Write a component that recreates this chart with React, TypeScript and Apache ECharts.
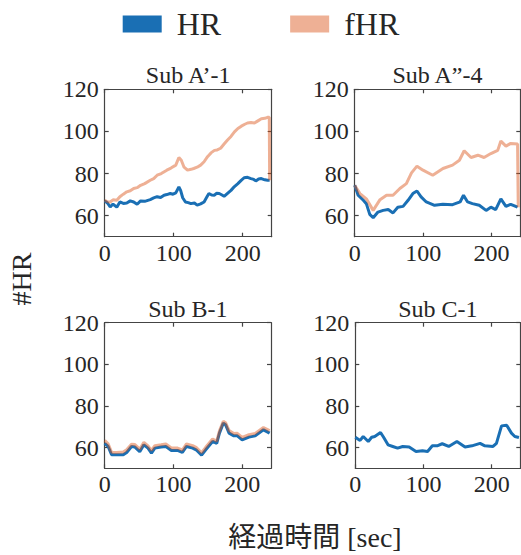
import React, { useEffect, useRef } from "react";
import * as echarts from "echarts";

// ---- Data ----
const subTitles = ["Sub A\u2019-1", "Sub A\u201D-4", "Sub B-1", "Sub C-1"];
const xTicks = [0, 100, 200];
const yTicks = [60, 80, 100, 120];

const a1HrT = [0, 4, 8, 12, 17.5, 22, 27, 32, 37, 42, 47, 52, 58, 66, 71, 76, 81, 86, 90, 95, 99, 103, 107.5, 110, 113, 117, 121, 125, 130, 134, 139, 144, 148, 151, 155, 159, 162, 166, 170, 173, 178, 183, 188, 193, 197, 202, 207, 212, 216, 219, 223, 227, 232, 236, 239];
const a1HrV = [67, 66, 64.1, 65.5, 64, 66.5, 65.8, 66, 67, 66.5, 65.4, 67, 66.8, 67.6, 68.4, 69, 68.6, 69.7, 70, 70.5, 70.2, 70.8, 73.6, 72, 68.5, 66.5, 66.2, 65.7, 66, 65, 65.6, 66.5, 68.8, 70.5, 69.8, 69.7, 70.6, 70.5, 69.8, 69.2, 70.6, 72, 73.8, 75.2, 76.5, 78, 78.2, 77.6, 77.2, 76.5, 77.4, 77.6, 77, 76.8, 76.8];
const a1FhrT = [0, 4, 8, 12, 17.5, 22, 27, 32, 37, 42, 47, 52, 58, 66, 71, 76, 82, 90, 96, 103, 107.5, 111, 115, 120, 125, 129, 134, 139, 144, 149, 154, 159, 163, 168, 173, 178, 183, 188, 193, 198, 203, 207, 212, 217, 222, 227, 232, 236, 238.5, 239];
const a1FhrV = [67.3, 66.6, 66.5, 67.5, 67.3, 69, 70.2, 71.3, 71.8, 72.9, 73.3, 74.4, 75.2, 76.8, 77.6, 79.2, 80, 81.6, 82.6, 84, 87.6, 86.3, 83, 81.6, 82, 82.4, 83, 84, 85.6, 88, 89.8, 91, 91.2, 92, 94, 95.9, 97.6, 99.8, 101.4, 102.5, 103.4, 104, 104.2, 104, 105, 106, 106.2, 106.7, 106.7, 76.8];

const a4HrT = [0, 5, 12.6, 17, 22, 27, 34, 41.6, 49, 56, 63, 70.7, 78, 85, 91, 97, 104.6, 116.7, 128.8, 143, 154, 159, 165, 172, 182, 192, 199, 206, 213.6, 221, 228, 238];
const a4HrV = [74.4, 69.7, 67.3, 65.7, 60.6, 59, 61.7, 62.5, 62.9, 61.3, 64, 64.4, 67.3, 70.5, 71.7, 68.9, 66.5, 64.9, 65.4, 65.2, 66.5, 69.7, 66.5, 65.7, 64.9, 62.5, 64, 62.9, 68, 64.4, 65.4, 64];
const a4FhrT = [0, 7.7, 17, 27, 37, 46.5, 56, 66, 75.5, 83, 91, 99.8, 114, 129, 143, 153, 160, 170, 180, 189, 199, 209, 213.6, 221, 228, 238, 239];
const a4FhrV = [74.4, 70.5, 68, 62.5, 67.6, 69.7, 69.7, 72.9, 75.2, 80.3, 83.5, 81.6, 79.2, 82.4, 84, 86.3, 90.8, 87.6, 88.7, 87.6, 89.5, 91, 95.4, 93, 94.3, 94, 64];

const b1T = [0, 5, 10, 17, 27, 32, 39, 44, 51, 57, 63, 68, 73, 82, 89, 97, 106, 113, 119, 128, 133, 141, 147, 157, 163, 167, 172.6, 176, 181, 188, 193, 200, 210, 219, 231, 240];
const b1HrV = [62, 60.5, 56.5, 56.5, 56.5, 57.6, 60.5, 60.2, 58, 61.3, 59.7, 57.3, 59.7, 60.2, 60.5, 58.6, 58.6, 57.6, 60.5, 59.7, 58.9, 56.3, 58.9, 62.9, 62, 66.9, 71.7, 70.9, 66.9, 65.6, 65.6, 63.7, 65, 65.6, 68.5, 66.9];
const b1FhrV = [63.4, 61.8, 57.7, 57.6, 57.8, 58.9, 61.6, 61.4, 59.2, 62.5, 60.8, 58.6, 60.9, 61.3, 61.7, 59.8, 59.7, 58.8, 61.7, 60.9, 60.1, 57.5, 60.1, 64.1, 63.1, 68, 72.6, 71.9, 68.1, 66.7, 66.8, 64.9, 66.2, 66.8, 69.6, 68.1];

const c1T = [0, 7, 11.6, 19, 24, 28.5, 37, 41.5, 48, 55, 62, 69.6, 79, 89, 98.5, 106, 113, 120, 127.5, 137, 149, 161, 171, 183, 190, 202, 207, 214.5, 222, 229, 234, 240];
const c1HrV = [64.9, 63.4, 65.3, 62.9, 64.9, 65.3, 67.2, 64.9, 61.3, 60.5, 59.7, 60.5, 60.2, 58.1, 58.4, 58.1, 60.8, 60.8, 61.8, 60.5, 62.9, 60.2, 60.8, 62, 60.8, 60.5, 62, 70.4, 70.7, 66.9, 65.3, 64.8];

const X_MAX = 242;
const Y_MIN = 50;
const Y_MAX = 120;

const zip = (t: number[], v: number[]) => t.map((x, i) => [x, v[i]]);

const SERIF = "'Liberation Serif', 'Times New Roman', serif";
const CJK = "'Liberation Serif', 'Noto Sans CJK JP', serif";
const BLUE = "#1A6FB4";
const SALMON = "rgba(217,83,25,0.46)";
const AXIS = "#444";
const TXT = "#262626";

export default function App() {
  const ref = useRef<HTMLDivElement>(null);
  useEffect(() => {
    if (!ref.current) return;
    const chart = echarts.init(ref.current, undefined, { renderer: "svg" });

    const grids = [
      { left: 104.7, top: 89.3, width: 167, height: 147.4 },
      { left: 354.7, top: 89.3, width: 165.6, height: 147.4 },
      { left: 104.7, top: 322.7, width: 166.3, height: 145.6 },
      { left: 355.3, top: 322.7, width: 165, height: 145.6 },
    ];

    const lineStyle = { color: AXIS, width: 1.2 };
    const xAxes: any[] = [];
    const yAxes: any[] = [];
    grids.forEach((_, gi) => {
      ["bottom", "top"].forEach((pos) => {
        xAxes.push({
          type: "value",
          gridIndex: gi,
          position: pos,
          min: 0,
          max: X_MAX,
          axisLine: { show: true, onZero: false, lineStyle },
          axisTick: { show: true, inside: true, length: 4, customValues: xTicks, lineStyle },
          axisLabel: {
            show: pos === "bottom",
            customValues: xTicks,
            fontSize: 24,
            fontFamily: SERIF,
            color: TXT,
            margin: 4,
          },
          splitLine: { show: false },
        });
      });
      ["left", "right"].forEach((pos) => {
        yAxes.push({
          type: "value",
          gridIndex: gi,
          position: pos,
          min: Y_MIN,
          max: Y_MAX,
          axisLine: { show: true, onZero: false, lineStyle },
          axisTick: { show: true, inside: true, length: 4, customValues: yTicks, lineStyle },
          axisLabel: {
            show: pos === "left",
            customValues: yTicks,
            fontSize: 24,
            fontFamily: SERIF,
            color: TXT,
            margin: 6,
          },
          splitLine: { show: false },
        });
      });
    });

    const mk = (name: string, gi: number, data: number[][], color: string, z: number) => ({
      name,
      type: "line",
      xAxisIndex: gi * 2,
      yAxisIndex: gi * 2,
      data,
      showSymbol: false,
      symbol: "none",
      z,
      lineStyle: { color, width: 3 },
      itemStyle: { color },
      clip: true,
    });

    const series = [
      mk("HR", 0, zip(a1HrT, a1HrV), BLUE, 2),
      mk("fHR", 0, zip(a1FhrT, a1FhrV), SALMON, 3),
      mk("HR", 1, zip(a4HrT, a4HrV), BLUE, 2),
      mk("fHR", 1, zip(a4FhrT, a4FhrV), SALMON, 3),
      mk("HR", 2, zip(b1T, b1HrV), BLUE, 2),
      mk("fHR", 2, zip(b1T, b1FhrV), SALMON, 3),
      mk("HR", 3, zip(c1T, c1HrV), BLUE, 2),
    ];

    const titles = grids.map((g, i) => ({
      text: subTitles[i],
      left: g.left + g.width / 2,
      top: g.top - 26,
      textAlign: "center",
      padding: 0,
      textStyle: { fontSize: 24, fontWeight: "normal", fontFamily: SERIF, color: TXT },
    }));

    chart.setOption({
      animation: false,
      backgroundColor: "#fff",
      title: titles,
      legend: {
        data: ["HR", "fHR"],
        left: 122.7,
        top: 8,
        padding: 0,
        icon: "rect",
        itemWidth: 39,
        itemHeight: 17,
        itemGap: 69,
        textStyle: { fontSize: 32, fontFamily: SERIF, color: TXT, padding: [0, 0, 0, 10] },
      },
      grid: grids,
      xAxis: xAxes,
      yAxis: yAxes,
      series,
      graphic: [
        {
          type: "text",
          x: 21,
          y: 279,
          rotation: Math.PI / 2,
          style: {
            text: "#HR",
            fontSize: 28,
            fontFamily: SERIF,
            fill: TXT,
            align: "center",
            verticalAlign: "middle",
          },
        },
        {
          type: "text",
          x: 315,
          y: 537,
          style: {
            text: "経過時間 [sec]",
            fontSize: 28,
            fontFamily: CJK,
            fill: TXT,
            align: "center",
            verticalAlign: "middle",
          },
        },
      ],
    });
    return () => chart.dispose();
  }, []);
  return (
    <div
      ref={ref}
      style={{ position: "absolute", left: 0, top: 0, width: 521, height: 555 }}
    />
  );
}
